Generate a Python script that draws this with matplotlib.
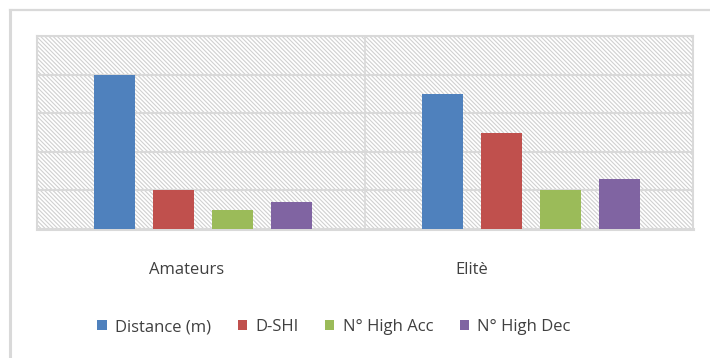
import numpy as np
import matplotlib.pyplot as plt
from matplotlib import patches

plt.rcParams['font.family'] = ['Open Sans', 'DejaVu Sans']
plt.rcParams['hatch.linewidth'] = 0.8

groups = ['Amateurs', 'Elitè']
series = ['Distance (m)', 'D-SHI', 'N° High Acc', 'N° High Dec']
distance = [4.0, 3.5]
dshi = [1.0, 2.5]
high_acc = [0.5, 1.0]
high_dec = [0.7, 1.3]
colors = ['#4f81bd', '#c0504d', '#9bbb59', '#8064a2']

grey = '#d9d9d9'
text_col = '#404040'

fig = plt.figure(figsize=(7.1, 3.58), dpi=100)
W, H = 710, 358
ax = fig.add_axes([37 / W, (H - 229) / H, 656 / W, 193 / H])

# outer chart frame (top and left edges only)
fig.add_artist(plt.Line2D([9.5 / W, 1.0], [1 - 9.5 / H] * 2, color=grey, lw=1.6))
fig.add_artist(plt.Line2D([10 / W] * 2, [0, 1 - 9.5 / H], color=grey, lw=2.2))

# hatched plot background
ax.add_patch(patches.Rectangle((0, 0), 1, 1, transform=ax.transAxes,
                               facecolor='white', edgecolor='#d0d0d0',
                               hatch='\\' * 8, lw=0, zorder=0))

x = np.arange(len(groups))
bw = 0.125
step = 0.18
values = [distance, dshi, high_acc, high_dec]
for i, (name, vals) in enumerate(zip(series, values)):
    ax.bar(x + (i - 1.5) * step + 0.005, vals, width=bw, color=colors[i],
           label=name, zorder=3)

ax.set_xlim(-0.5, 1.5)
ax.set_ylim(0, 5)
ax.set_yticks(np.arange(1, 6))
ax.set_yticklabels([])
ax.tick_params(axis='y', length=0)
ax.yaxis.grid(True, color=grey, lw=1.5, zorder=1)
ax.axvline(0.5, color=grey, lw=1.2, zorder=1)

# category labels sit a little left of their groups
ax.set_xticks(x + np.array([-0.045, -0.175]))
ax.set_xticklabels(groups, fontsize=12, color=text_col)
ax.tick_params(axis='x', length=0, pad=24)

for s in ax.spines.values():
    s.set_color(grey)
    s.set_linewidth(1.5)
ax.spines['bottom'].set_linewidth(2.2)

leg = fig.legend(loc='center', bbox_to_anchor=(334 / W, 1 - 327 / H), ncol=4,
                 frameon=False, fontsize=12, handlelength=0.55,
                 handleheight=0.55, handletextpad=0.5, columnspacing=1.6)
for t in leg.get_texts():
    t.set_color(text_col)

fig.savefig('out.png', dpi=100, facecolor='white')
